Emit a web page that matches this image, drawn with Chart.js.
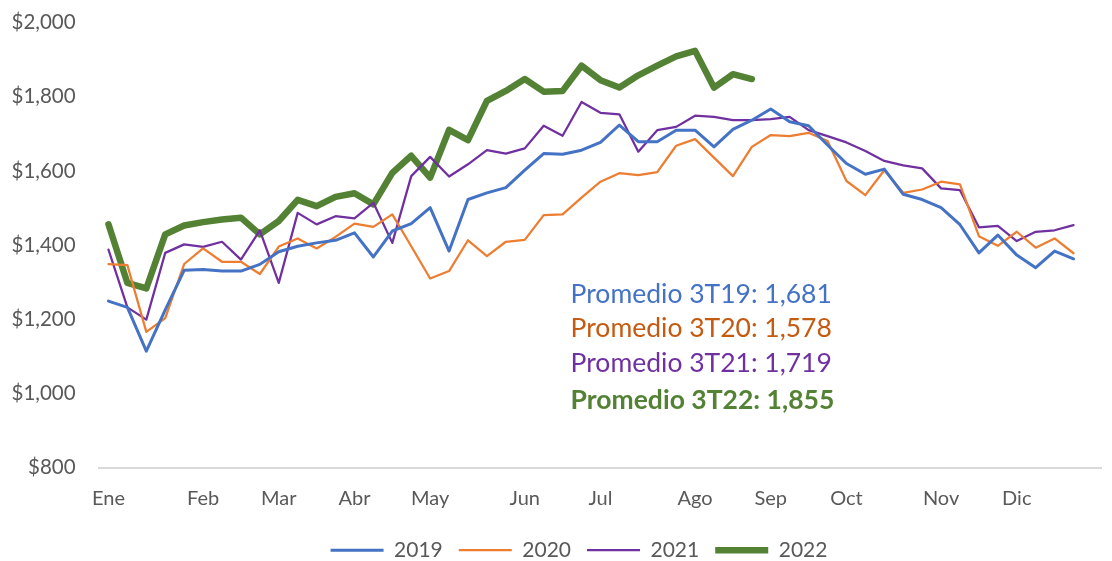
<!DOCTYPE html>
<html>
<head>
<meta charset="utf-8">
<script src="https://cdn.jsdelivr.net/npm/chart.js@4"></script>
<style>
  html, body { margin: 0; padding: 0; background: #fff; }
  #wrap { width: 1112px; height: 561px; }
</style>
</head>
<body>
<div id="wrap"><canvas id="chart" width="1112" height="561"></canvas></div>
<script>
// month names and the week each one starts on (category index)
const months = ['Ene', 'Feb', 'Mar', 'Abr', 'May', 'Jun', 'Jul', 'Ago', 'Sep', 'Oct', 'Nov', 'Dic'];
const monthStartWeek = [0, 5, 9, 13, 17, 22, 26, 31, 35, 39, 44, 48];
const weekCount = 53;

// weekly values
const y2019 = [1249, 1232, 1114, 1225, 1332, 1334, 1330, 1330, 1348, 1382, 1397, 1406, 1413, 1433, 1368, 1438, 1458, 1501, 1384, 1523,
  1541, 1555, 1602, 1647, 1645, 1656, 1677, 1724, 1679, 1679, 1710, 1710, 1665, 1712, 1737, 1767, 1733, 1722, 1670, 1620,
  1591, 1605, 1537, 1523, 1501, 1455, 1379, 1427, 1373, 1339, 1384, 1363];
const y2020 = [1349, 1346, 1166, 1203, 1349, 1391, 1355, 1355, 1322, 1396, 1418, 1391, 1422, 1458, 1449, 1483, 1397, 1310, 1330, 1413,
  1370, 1409, 1414, 1481, 1483, 1528, 1571, 1594, 1589, 1597, 1668, 1686, 1636, 1586, 1665, 1697, 1694, 1703, 1681, 1573,
  1535, 1602, 1541, 1550, 1571, 1564, 1424, 1398, 1436, 1393, 1418, 1378];
const y2021 = [1388, 1232, 1199, 1379, 1402, 1395, 1409, 1361, 1440, 1298, 1487, 1456, 1478, 1472, 1514, 1406, 1586, 1638, 1585, 1618,
  1656, 1647, 1661, 1722, 1695, 1786, 1757, 1753, 1652, 1710, 1719, 1749, 1746, 1737, 1737, 1740, 1746, 1710, 1694, 1677,
  1654, 1627, 1615, 1607, 1553, 1548, 1448, 1452, 1411, 1436, 1440, 1454];
const y2022 = [1456, 1298, 1283, 1429, 1453, 1462, 1469, 1474, 1429, 1465, 1522, 1505, 1530, 1540, 1510, 1595, 1641, 1582, 1711, 1683,
  1789, 1816, 1848, 1814, 1816, 1884, 1845, 1825, 1858, 1884, 1909, 1924, 1825, 1861, 1848];

const yTicksMin = 800;
const yTicksMax = 2000;
const yTicksStep = 200;

// third-quarter averages shown as notes
const noteLabels = ['Promedio 3T19: 1,681', 'Promedio 3T20: 1,578', 'Promedio 3T21: 1,719', 'Promedio 3T22: 1,855'];

const labels = [];
for (let i = 0; i < weekCount; i++) {
  const m = monthStartWeek.indexOf(i);
  labels.push(m >= 0 ? months[m] : '');
}

const FONT = 'Lato, "Open Sans", sans-serif';
const GREY = '#595959';

const notesPlugin = {
  id: 'notes',
  afterLayout(chart) {
    // legend in the original sits a bit right of the canvas centre
    chart.legend.left += 26;
    chart.legend.right += 26;
  },
  afterDraw(chart) {
    const ctx = chart.ctx;
    const x = chart.scales.x.getPixelForValue(24) + 8;
    const yScale = chart.scales.y;
    const noteY = [1268, 1176, 1081, 981];
    const colors = ['#4472C4', '#C55A11', '#7030A0', '#548235'];
    ctx.save();
    ctx.textBaseline = 'middle';
    ctx.textAlign = 'left';
    noteLabels.forEach((t, i) => {
      ctx.font = (i === 3 ? 'bold ' : '') + '26.5px ' + FONT;
      ctx.fillStyle = colors[i];
      ctx.fillText(t, x, yScale.getPixelForValue(noteY[i]));
    });
    ctx.restore();
  }
};

const line = (label, data, color, width) => ({
  label,
  data,
  borderColor: color,
  backgroundColor: color,
  borderWidth: width,
  pointRadius: 0,
  pointHoverRadius: 0,
  tension: 0,
  fill: false,
  borderJoinStyle: 'round',
  borderCapStyle: 'round',
  pointStyle: 'line'
});

new Chart(document.getElementById('chart').getContext('2d'), {
  type: 'line',
  data: {
    labels,
    datasets: [
      line('2019', y2019, '#4472C4', 3),
      line('2020', y2020, '#ED7D31', 2.25),
      line('2021', y2021, '#7030A0', 2.25),
      line('2022', y2022, '#548235', 6.5)
    ]
  },
  options: {
    responsive: false,
    animation: false,
    devicePixelRatio: 1,
    layout: { padding: { top: 0, right: 6, left: 0, bottom: -9.7 } },
    plugins: {
      tooltip: { enabled: false },
      legend: {
        position: 'bottom',
        labels: {
          usePointStyle: true,
          pointStyleWidth: 53,
          boxHeight: 20,
          padding: 16,
          color: GREY,
          font: { family: FONT, size: 21 }
        }
      }
    },
    scales: {
      x: {
        offset: true,
        grid: { display: false, drawTicks: false },
        border: { display: true, color: '#D9D9D9', width: 2 },
        ticks: {
          autoSkip: false,
          maxRotation: 0,
          padding: 19.5,
          color: GREY,
          font: { family: FONT, size: 20 }
        },
        afterFit(scale) { scale.height = 56.2; }
      },
      y: {
        min: yTicksMin,
        max: yTicksMax,
        grid: { display: false, drawTicks: true, tickLength: 13 },
        border: { display: false },
        ticks: {
          stepSize: yTicksStep,
          padding: 10.4,
          color: GREY,
          font: { family: FONT, size: 20.5 },
          callback: v => '$' + v.toLocaleString('en-US')
        },
        afterFit(scale) { scale.width = 99; }
      }
    }
  },
  plugins: [notesPlugin]
});
</script>
</body>
</html>
